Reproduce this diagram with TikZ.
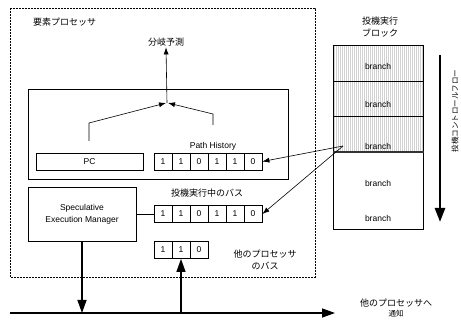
\documentclass[tikz,border=0pt]{standalone}
\usepackage{fontspec}
\setmainfont{Liberation Sans}
\newfontfamily\jp{Noto Sans CJK JP}
\usetikzlibrary{arrows.meta}

\tikzset{
  box/.style={draw, line width=0.8pt, inner sep=0pt},
  bit/.style={box, minimum width=18pt, minimum height=17pt, font=\fontsize{8.5}{10}\selectfont},
  jplabel/.style={font=\jp\fontsize{9}{12}\selectfont, inner sep=1pt, align=center},
  enlabel/.style={font=\fontsize{8.5}{10}\selectfont, inner sep=1pt, align=center},
  thin arrow/.style={line width=0.6pt, -{Latex[length=7pt,width=5pt]}},
  bus arrow/.style={line width=1.3pt, -{Triangle[length=13pt,width=9pt]}},
  blockcell/.style={draw, line width=0.8pt, minimum width=90pt, inner sep=0pt, anchor=north west},
}

\begin{document}
\begin{tikzpicture}[x=1pt, y=-1pt]
\useasboundingbox (0,0) rectangle (461,320);
\fill[white] (0,0) rectangle (461,320);

% element processor boundary
\draw[line width=0.6pt, dash pattern=on 2pt off 1pt] (10,8) rectangle (315,277);
\node[jplabel, anchor=west] (elem) at (32,22) {要素プロセッサ};
\node[jplabel] (pred) at (166,42) {分岐予測};

% predictor box
\node[box, minimum width=260pt, minimum height=90pt, anchor=north west] (inner) at (28,89) {};
\node[box, minimum width=107pt, minimum height=17pt, font=\fontsize{8.5}{10}\selectfont] (pc) at (89.5,161.5) {PC};
\foreach \b [count=\i] in {1,1,0,1,1,0}
  \node[bit] (ph\i) at ({145+18*\i},161.5) {\b};
\node[enlabel] (phlabel) at (213,146) {Path History};

% merge of PC and path history
\coordinate (merge) at (167,103);
\coordinate (pcup) at (89,141);
\coordinate (phup) at (213,125);
\draw[thin arrow] (pcup) -- (89,123) -- ([xshift=-1pt]merge);
\draw[thin arrow] (phup) -- (213,114) -- ([xshift=1pt]merge);
\draw[thin arrow] (merge) -- (pred.south);

% speculative execution manager and path registers
\node[box, minimum width=108pt, minimum height=54pt, align=center, font=\fontsize{8.5}{12}\selectfont] (sem) at (82,214) {Speculative\\Execution Manager};
\foreach \b [count=\i] in {1,1,0,1,1,0}
  \node[bit] (sp\i) at ({145+18*\i},214) {\b};
\node[jplabel] (splabel) at (207,193) {投機実行中のバス};
\draw[line width=0.6pt] (sem.east) -- (sp1.west);

\foreach \b [count=\i] in {1,1,0}
  \node[bit] (ot\i) at ({145+18*\i},250) {\b};
\node[jplabel] (otlabel) at (265,260) {他のプロセッサ\\のバス};

% broadcast bus
\coordinate (busL) at (10,313);
\coordinate (busR) at (335,313);
\draw[bus arrow] (busL) -- (busR);
\draw[bus arrow] (sem.south) -- (sem.south |- busL);
\draw[bus arrow] (ot2.south |- busL) -- (ot2.south);
\node[jplabel, anchor=north, font=\jp\fontsize{9}{10}\selectfont] (notify) at (396,298)
  {他のプロセッサへ\\{\fontsize{7.5}{8}\selectfont 通知}};

% speculative execution blocks
\node[jplabel] (blklabel) at (380,27) {投機実行\\ブロック};
\foreach \x in {334,336,...,422}
  \draw[gray!35, line width=0.4pt] (\x,45) -- (\x,152);
\node[blockcell, minimum height=36pt] (b1) at (333,45) {};
\node[blockcell, minimum height=35pt] (b2) at (333,81) {};
\node[blockcell, minimum height=36pt] (b3) at (333,116) {};
\node[blockcell, minimum height=77pt] (b4) at (333,152) {};
\draw[line width=1.4pt, black!80] (b4.north west) -- (b4.north east);
\node[enlabel] (br1) at (378,66) {branch};
\node[enlabel] (br2) at (378,104) {branch};
\node[enlabel] (br3) at (378,146) {branch};
\node[enlabel] (br4) at (378,183) {branch};
\node[enlabel] (br5) at (378,218) {branch};

% branch outcome fed to the path registers
\coordinate (brsrc) at (343,146);
\draw[thin arrow] (brsrc) -- (ph6.east);
\draw[thin arrow] (brsrc) -- (sp6.east);

% speculative control flow direction
\coordinate (flowtop) at (440,55);
\coordinate (flowbot) at (440,222);
\draw[line width=2.6pt, -{Triangle[length=14pt,width=10pt]}] (flowtop) -- (flowbot);
\node[jplabel, rotate=90, font=\jp\fontsize{7.5}{9}\selectfont] (flowlabel) at (455,111) {投機コントロールフロー};
\end{tikzpicture}
\end{document}
